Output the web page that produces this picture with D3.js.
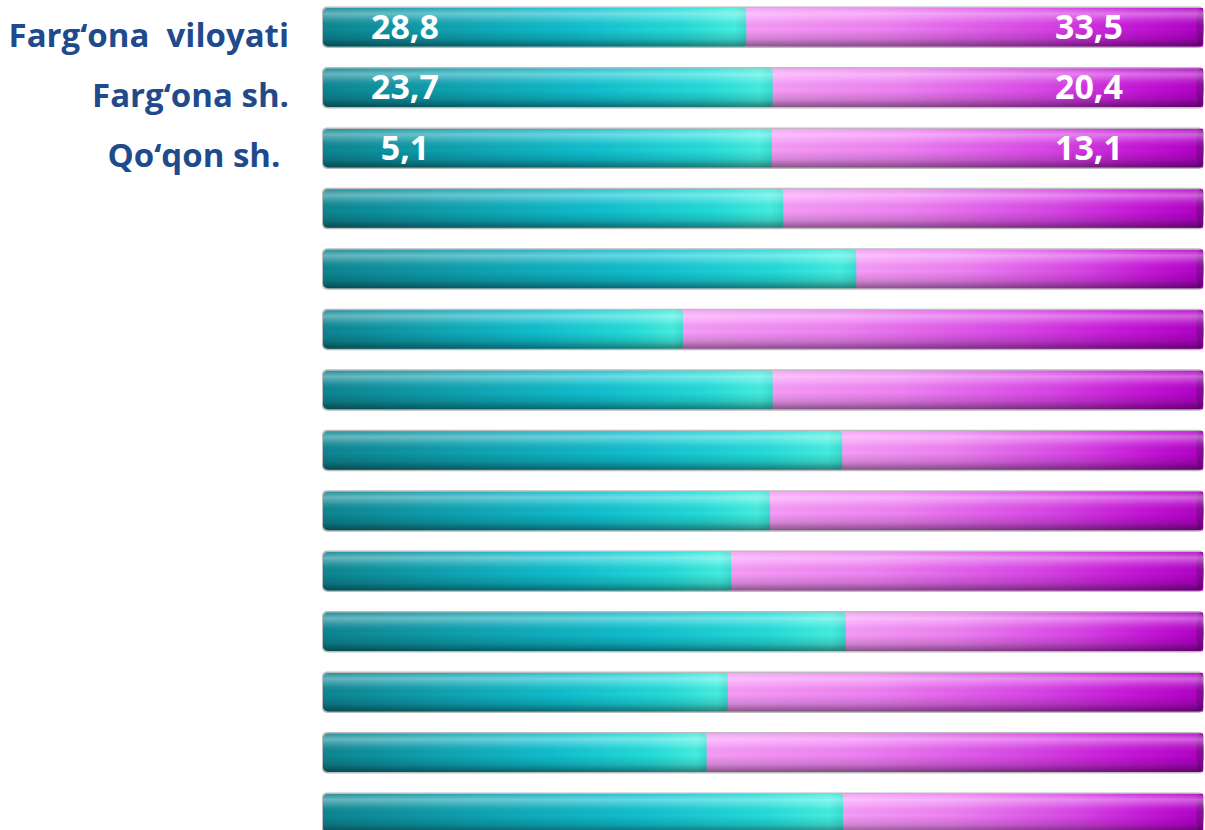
<!DOCTYPE html>
<html>
<head>
<meta charset="utf-8">
<script src="https://cdn.jsdelivr.net/npm/d3@7"></script>
<style>
  body { margin: 0; background: #fff; }
  svg { display: block; }
</style>
</head>
<body>
<div id="chart"></div>
<script>
// row names (only the first three are labelled in the source)
var categories = ["Farg\u2018ona  viloyati", "Farg\u2018ona sh.", "Qo\u2018qon sh. ",
    "", "", "", "", "", "", "", "", "", "", ""];
// share of the teal (left) part of each bar, in percent
var leftShare = [48.1, 51.1, 51.0, 52.3, 60.6, 40.9, 51.1, 59.0, 50.8, 46.4, 59.4, 46.0, 43.6, 59.1];
// printed values
var leftValues = ["28,8", "23,7", "5,1"];
var rightValues = ["33,5", "20,4", "13,1"];

var width = 1205, height = 830;

var svg = d3.select("#chart").append("svg")
    .attr("width", width)
    .attr("height", height);

var x = d3.scaleLinear()
    .domain([0, 100])
    .range([323, 1203]);

var y = d3.scaleBand()
    .domain(d3.range(categories.length))
    .range([8, 832.4])
    .paddingInner(0.363)
    .paddingOuter(0);

var defs = svg.append("defs");

// horizontal colour ramps
var tealGrad = defs.append("linearGradient").attr("id", "teal")
    .attr("x1", 0).attr("x2", 1).attr("y1", 0).attr("y2", 0);
[[0, "#0d8591"], [0.3, "#0ea3b2"], [0.6, "#10bfcf"], [0.85, "#24dcda"], [0.97, "#44eee0"], [1, "#38dcd2"]]
    .forEach(function (s) { tealGrad.append("stop").attr("offset", s[0]).attr("stop-color", s[1]); });

var pinkGrad = defs.append("linearGradient").attr("id", "pink")
    .attr("x1", 0).attr("x2", 1).attr("y1", 0).attr("y2", 0);
[[0, "#f79cf8"], [0.3, "#ef82f3"], [0.65, "#d844e6"], [0.85, "#c616d8"], [1, "#b000c6"]]
    .forEach(function (s) { pinkGrad.append("stop").attr("offset", s[0]).attr("stop-color", s[1]); });

// vertical shading for the cylinder look
var shade = defs.append("linearGradient").attr("id", "shade")
    .attr("x1", 0).attr("x2", 0).attr("y1", 0).attr("y2", 1);
[[0, "#ffffff", 0.1], [0.15, "#ffffff", 0.38], [0.32, "#ffffff", 0.12], [0.55, "#000000", 0],
 [0.8, "#000000", 0.15], [1, "#000000", 0.45]]
    .forEach(function (s) {
        shade.append("stop").attr("offset", s[0]).attr("stop-color", s[1]).attr("stop-opacity", s[2]);
    });

var rows = svg.selectAll(".row")
    .data(leftShare)
    .enter().append("g")
    .attr("class", "row")
    .attr("transform", function (d, i) { return "translate(0," + y(i) + ")"; });

var bh = y.bandwidth();

// grey rim behind each bar
rows.append("rect")
    .attr("x", x(0) - 1)
    .attr("y", -1.5)
    .attr("width", x(100) - x(0) + 2)
    .attr("height", bh + 3)
    .attr("rx", 5)
    .attr("fill", "#bcbcbc");

rows.append("rect")
    .attr("x", x(0))
    .attr("y", 0)
    .attr("width", function (d) { return x(d) - x(0) + 1; })
    .attr("height", bh)
    .attr("rx", 5)
    .attr("fill", "url(#teal)");

rows.append("rect")
    .attr("x", function (d) { return x(d); })
    .attr("y", 0)
    .attr("width", function (d) { return x(100) - x(d); })
    .attr("height", bh)
    .attr("fill", "url(#pink)");

// right end cap
rows.append("ellipse")
    .attr("cx", x(100) - 3)
    .attr("cy", bh / 2)
    .attr("rx", 3.5)
    .attr("ry", bh / 2)
    .attr("fill", "#8a0a9c");

rows.append("rect")
    .attr("x", x(0))
    .attr("y", 0)
    .attr("width", x(100) - x(0))
    .attr("height", bh)
    .attr("rx", 5)
    .attr("fill", "url(#shade)");

// category labels
svg.selectAll(".cat")
    .data(categories)
    .enter().append("text")
    .attr("class", "cat")
    .attr("x", 289)
    .attr("y", function (d, i) { return y(i) + bh; })
    .attr("text-anchor", "end")
    .style("white-space", "pre")
    .attr("font-family", "'Open Sans', sans-serif")
    .attr("font-weight", 700)
    .attr("font-size", 33)
    .attr("fill", "#1f4a8c")
    .text(function (d) { return d; });

// value labels
svg.selectAll(".lv")
    .data(leftValues)
    .enter().append("text")
    .attr("class", "lv")
    .attr("x", 405)
    .attr("y", function (d, i) { return y(i) + 31; })
    .attr("text-anchor", "middle")
    .attr("font-family", "'Open Sans', sans-serif")
    .attr("font-weight", 700)
    .attr("font-size", 34)
    .attr("fill", "#fff")
    .text(function (d) { return d; });

svg.selectAll(".rv")
    .data(rightValues)
    .enter().append("text")
    .attr("class", "rv")
    .attr("x", 1089)
    .attr("y", function (d, i) { return y(i) + 31; })
    .attr("text-anchor", "middle")
    .attr("font-family", "'Open Sans', sans-serif")
    .attr("font-weight", 700)
    .attr("font-size", 34)
    .attr("fill", "#fff")
    .text(function (d) { return d; });
</script>
</body>
</html>
